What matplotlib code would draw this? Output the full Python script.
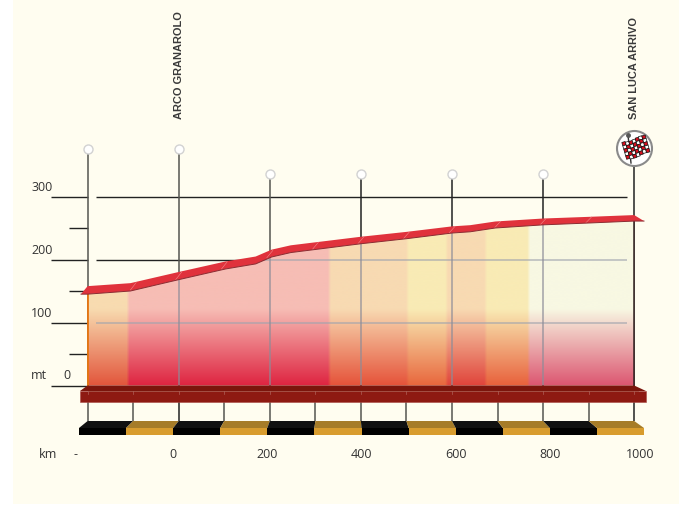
import numpy as np
import matplotlib
matplotlib.use("Agg")
import matplotlib.pyplot as plt
from matplotlib.patches import Polygon, Circle, Rectangle
from matplotlib.colors import to_rgb

# ---------- data ----------
profile_km = [-200, -106, 0, 103, 169, 204, 246, 400, 500, 600, 640, 695, 800, 903, 1000]
profile_m = [145, 150, 168, 185, 193, 204, 211, 225, 233, 242, 244, 250, 255, 258, 261]
band_edges_km = [-200, -112, 329, 502, 588, 673, 767, 1000]
band_top = ["#F8DBB0", "#F7BDB5", "#F8DAB2", "#F9EBB5", "#F8DAB2", "#F9EBB5", "#F8F8E3"]
band_bottom = ["#E2553B", "#DE2340", "#E55239", "#E8663C", "#E0433A", "#E8603B", "#DC5570"]
y_ticks = [0, 100, 200, 300]
y_minor = [50, 150, 250]
x_tick_km = [-200, 0, 200, 400, 600, 800, 1000]
x_tick_lab = ["-", "0", "200", "400", "600", "800", "1000"]
small_pole_km = [-200, 0, 200, 400, 600, 800]
small_pole_top = [376, 376, 336, 336, 336, 336]
named_km = [0, 1000]
named_lab = ["ARCO GRANAROLO", "SAN LUCA ARRIVO"]

# ---------- scales ----------
W, H = 684, 506
PX_KM, PX_M = 0.4555, 0.63
X0, Y0 = 178.7, 386.5
fig = plt.figure(figsize=(W / 100, H / 100), dpi=100, facecolor="white")
ax = fig.add_axes([0, 0, 1, 1])
ax.set_xlim(-X0 / PX_KM, (W - X0) / PX_KM)
ax.set_ylim((Y0 - H) / PX_M, Y0 / PX_M)
ax.axis("off")
dx = lambda p: p / PX_KM      # pixels -> km
dy = lambda p: p / PX_M       # pixels -> m
X = lambda px: (px - X0) / PX_KM
Y = lambda py: (Y0 - py) / PX_M

TF = "Open Sans"
TXT = "#333333"
km = np.array(profile_km, float)
mt = np.array(profile_m, float)
KL, KR = km[0], km[-1]

ax.add_patch(Rectangle((X(13), Y(505)), dx(666), dy(505), fc="#FFFDF0", ec="none", zorder=0))

# lines behind the profile
for v in y_ticks:
    ax.plot([X(51), KL], [v, v], color="#222222", lw=1, zorder=1, solid_capstyle="butt")
    if v:
        ax.plot([X(96), X(627)], [v, v], color="#222222", lw=1, zorder=1, solid_capstyle="butt")
for v in y_minor:
    ax.plot([X(69), KL], [v, v], color="#222222", lw=1, zorder=1, solid_capstyle="butt")
for i, (k, t) in enumerate(zip(small_pole_km, small_pole_top)):
    c = "#555550" if i < 3 else "#222222"
    ax.plot([k, k], [0, t], color=c, lw=1.1, zorder=1.5, solid_capstyle="butt")
    ax.plot([k], [t], "o", ms=6.5, mfc="white", mec="#D2D2D2", mew=1, zorder=3)
ax.plot([KR, KR], [0, Y(149)], color="#222222", lw=1.1, zorder=1.5)

# gradient fill clipped to the profile
cols = 546
rows = 300
xs = np.linspace(KL, KR, cols)
ys = np.linspace(0, 275, rows)
idx = np.clip(np.searchsorted(band_edges_km, xs, side="right") - 1, 0, len(band_top) - 1)
tt = np.clip(ys / 122.0, 0, 1)[:, None]
tops = np.array([to_rgb(c) for c in band_top])[idx]
bots = np.array([to_rgb(c) for c in band_bottom])[idx]
img = bots[None, :, :] * (1 - tt[..., None]) + tops[None, :, :] * tt[..., None]
kernel = np.ones(3) / 3
for r in range(rows):
    for ch in range(3):
        row = np.pad(img[r, :, ch], 1, mode="edge")
        img[r, :, ch] = np.convolve(row, kernel, mode="valid")
im = ax.imshow(img, origin="lower", extent=[KL, KR, 0, 275], aspect="auto",
               interpolation="bilinear", zorder=2)
ax.set_xlim(-X0 / PX_KM, (W - X0) / PX_KM)
ax.set_ylim((Y0 - H) / PX_M, Y0 / PX_M)
clip = Polygon(np.r_[np.c_[km, mt], [[KR, 0], [KL, 0]]], closed=True, transform=ax.transData,
               fc="none", ec="none")
ax.add_patch(clip)
im.set_clip_path(clip)

# lines seen through the fill
for v in (100, 200):
    l, = ax.plot([X(96), X(627)], [v, v], color="#A0A4AE", alpha=.75, lw=1.1, zorder=2.5,
                 solid_capstyle="butt")
    l.set_clip_path(clip)
for k in small_pole_km[1:]:
    l, = ax.plot([k, k], [0, 275], color="#8C8C98", alpha=.8, lw=1.1, zorder=2.5,
                 solid_capstyle="butt")
    l.set_clip_path(clip)
ax.plot([KR, KR], [0, 261], color="#332222", lw=1.1, zorder=2.6)
ax.plot([KL, KL], [0, mt[0]], color="#E8750F", lw=1.3, zorder=2.6)

# ribbon
thick = np.interp(km, [KL, KR], [dy(8), dy(6)])
top = mt + thick
left_tip = [X(81), mt[0]]
right_tip = [X(644), mt[-1]]
rib = np.r_[[left_tip], np.c_[km, top], [right_tip], np.c_[km, mt][::-1]]
ax.add_patch(Polygon(rib, closed=True, fc="#E0323C", ec="none", zorder=4))
ax.plot(np.r_[left_tip[0], km, right_tip[0]], np.r_[mt[0], mt, mt[-1]], color="#8A2C32", lw=.7, zorder=4.2)
for k in np.arange(-100, 1000, 100):
    b, t = np.interp(k, km, mt), np.interp(k, km, top)
    ax.plot([k - dx(3), k + dx(3)], [b, t], color="#F08A8A", lw=.4, zorder=4.1)

# base
ax.add_patch(Polygon([[KL, 0], [KR, 0], [X(646), Y(392)], [X(80), Y(392)]], fc="#7B150C", ec="none", zorder=5))
ax.add_patch(Rectangle((X(80), Y(403)), dx(566), dy(11), fc="#8E1A12", ec="#A84A44", lw=.4, zorder=5))
ax.plot([X(88), X(638)], [Y(392), Y(392)], color="#A04A3E", lw=.6, zorder=5.2)

# km ticks and scale bar
for i, k in enumerate(np.arange(-200, 1001, 100)):
    ax.plot([k, k], [Y(403), Y(422)], color="#222222" if i in (2, 12) else "#555550",
            lw=1.1, zorder=4, solid_capstyle="butt")
    ax.plot([k, k], [Y(392), Y(395)], color="#B06058", lw=.5, zorder=5.3)
FL, FR = X(79), X(644)
front = lambda k: FL + (np.asarray(k, float) - KL) / (KR - KL) * (FR - FL)
edges = np.arange(-200, 1000, 100)
for i, k in enumerate(edges):
    t_c, f_c = ("#111111", "#000000") if i % 2 == 0 else ("#A67C28", "#D89C2E")
    ax.add_patch(Polygon([[front(k), Y(429)], [k, Y(422)], [k + 100, Y(422)], [front(k + 100), Y(429)]],
                         fc=t_c, ec="none", zorder=5))
    ax.add_patch(Rectangle((front(k), Y(436)), front(k + 100) - front(k), dy(7), fc=f_c, ec="none", zorder=5))

# text
FS = 9
for v in y_ticks[1:]:
    ax.text(X(42), v + dy(10), str(v), ha="center", va="center", family=TF, fontsize=FS, color=TXT, zorder=6)
ax.text(X(67), dy(11), "0", ha="center", va="center", family=TF, fontsize=FS, color=TXT, zorder=6)
ax.text(X(39), dy(11), "mt", ha="center", va="center", family=TF, fontsize=FS, color=TXT, zorder=6)
ax.text(X(48), Y(454.5), "km", ha="center", va="center", family=TF, fontsize=FS, color=TXT, zorder=6)
for k, s in zip(x_tick_km, x_tick_lab):
    xp = min(front(k), X(640))
    if s == "-":
        xp = X(76)
    ax.text(xp, Y(454.5), s, ha="center", va="center", family=TF, fontsize=FS, color=TXT, zorder=6)
for k, s in zip(named_km, named_lab):
    ax.text(k, Y(119.5), s, rotation=90, ha="center", va="bottom", family="Liberation Sans",
            weight="bold", fontsize=7.9, color="#3A3A3A", zorder=6)

# finish badge (pixel-sized overlay)
px_ax = fig.add_axes([0, 0, 1, 1], facecolor="none")
px_ax.set_xlim(0, W)
px_ax.set_ylim(H, 0)
px_ax.axis("off")
cx, cy = 634.5, 149.5
px_ax.add_patch(Circle((cx, cy), 17.5, fc="white", ec="#8A8A8A", lw=1.5, zorder=7))
px_ax.plot([628, 631], [136, 164], color="#333333", lw=1, zorder=8)
px_ax.plot([628], [136], "o", ms=2.5, color="#555555", zorder=8)
nx, ny = 7, 5
ang = np.deg2rad(-16)
ux, uy = np.cos(ang), np.sin(ang)
vx, vy = -uy, ux
cell = 3.5
for i in range(nx):
    for j in range(ny):
        c = "#D80F1E" if (i + j) % 2 == 0 else "white"
        a = (i - nx / 2) * cell
        b = (j - ny / 2) * cell
        wave = 1.0 * np.sin(i * 0.9)
        pts = []
        for da, db in [(0, 0), (1, 0), (1, 1), (0, 1)]:
            aa = a + da * cell
            bb = b + db * cell + wave
            pts.append((cx + 1.5 + aa * ux + bb * vx, cy - 1 + aa * uy + bb * vy))
        px_ax.add_patch(Polygon(pts, fc=c, ec="#111111", lw=.5, zorder=8))

fig.savefig("out.png", dpi=100, facecolor=fig.get_facecolor())
